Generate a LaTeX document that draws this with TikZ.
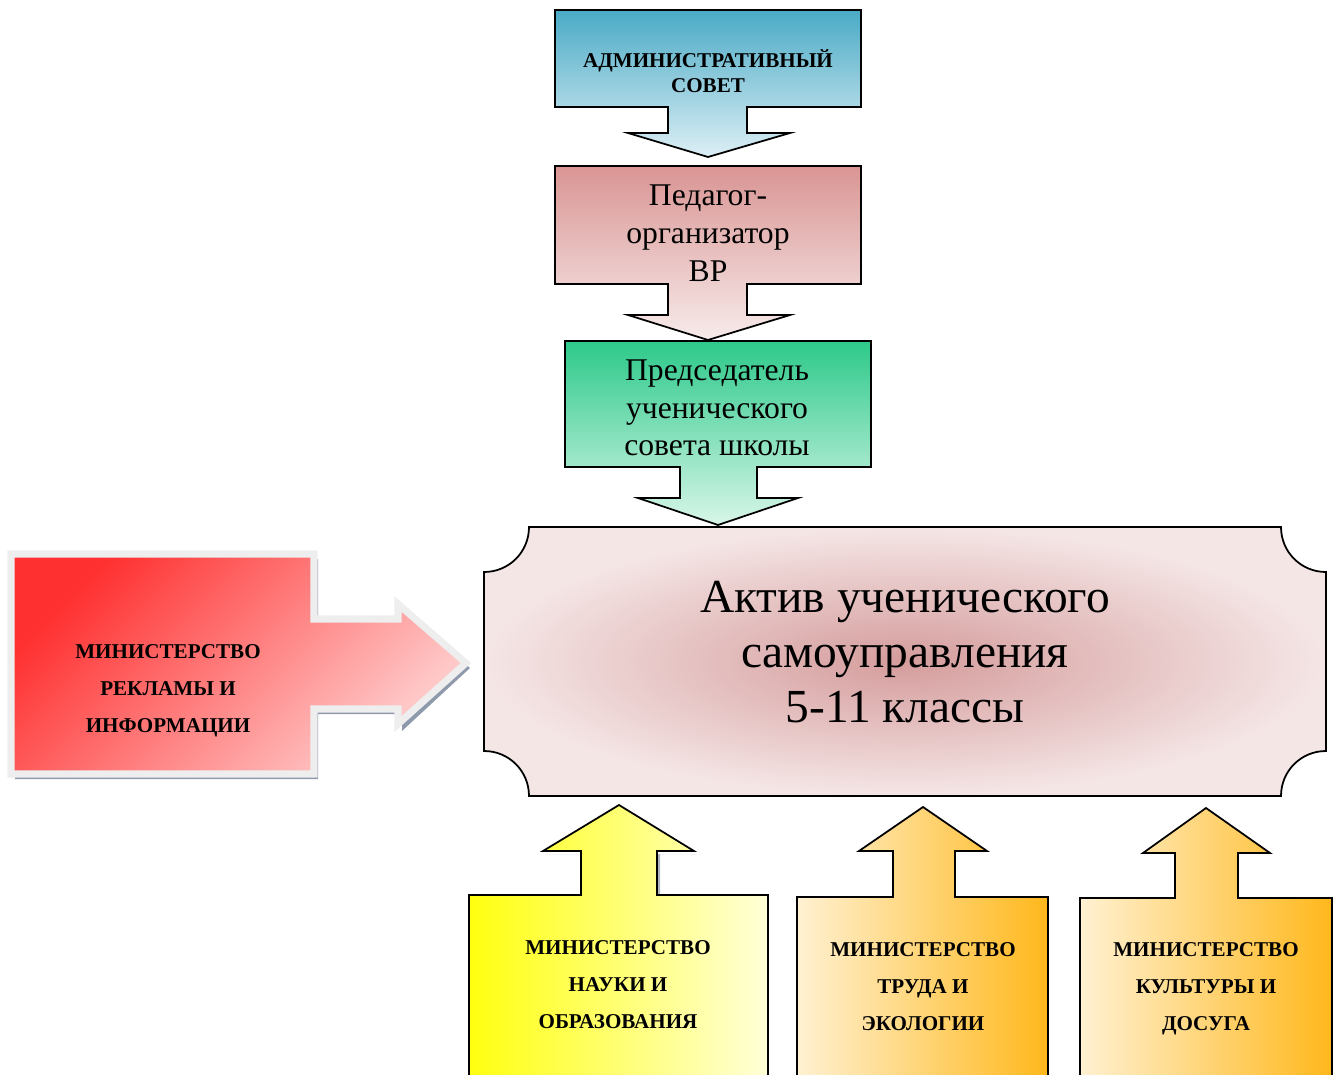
\documentclass[tikz,border=0pt]{standalone}
\usepackage{fontspec}
\setmainfont{Liberation Serif}
\definecolor{admTop}{HTML}{4AAAC6}
\definecolor{admBot}{HTML}{DDEFF5}
\definecolor{pedTop}{HTML}{D99594}
\definecolor{pedBot}{HTML}{F7EBEB}
\definecolor{predTop}{HTML}{2DC98A}
\definecolor{predBot}{HTML}{D8F6E9}
\definecolor{aktivIn}{HTML}{D59C9C}
\definecolor{aktivOut}{HTML}{F5E6E6}
\definecolor{redTop}{HTML}{FF3030}
\definecolor{redBot}{HTML}{FFD0D0}
\definecolor{frameGray}{HTML}{EEEEEE}
\definecolor{shadowGray}{HTML}{8E9AAB}
\definecolor{yelL}{HTML}{FFFF10}
\definecolor{yelR}{HTML}{FFFFD8}
\definecolor{orL}{HTML}{FFF1D2}
\definecolor{orM}{HTML}{FFDC92}
\definecolor{orR}{HTML}{FFB81C}
\begin{document}
\begin{tikzpicture}[x=0.02cm,y=-0.02cm,
  outl/.style={draw=black,line width=1pt},
  caps/.style={align=center,font=\fontsize{12}{21}\selectfont\bfseries},
  txt/.style={align=center,font=\fontsize{18}{21.5}\selectfont}]
  \useasboundingbox (0,0) rectangle (1339,1075);

  \draw[outl,top color=admTop,bottom color=admBot] (555,10) -- (861,10) -- (861,107) -- (747,107) -- (747,133) -- (790,133) -- (708,157) -- (628,133) -- (668,133) -- (668,107) -- (555,107) -- cycle;
  \node[caps,font=\fontsize{12}{14.2}\selectfont\bfseries] (adm) at (708,71) {АДМИНИСТРАТИВНЫЙ\\СОВЕТ};

  \draw[outl,top color=pedTop,bottom color=pedBot] (555,166) -- (861,166) -- (861,284) -- (747,284) -- (747,315) -- (790,315) -- (708,340) -- (628,315) -- (668,315) -- (668,284) -- (555,284) -- cycle;
  \node[txt] (ped) at (708,233) {Педагог-\\организатор\\ВР};

  \draw[outl,inner color=aktivIn,outer color=aktivOut] (529,527) -- (1281,527) .. controls (1281,552) and (1301,572) .. (1326,572) -- (1326,751) .. controls (1301,751) and (1281,771) .. (1281,796) -- (529,796) .. controls (529,771) and (509,751) .. (484,751) -- (484,572) .. controls (509,572) and (529,552) .. (529,527) -- cycle;
  \node[align=center,font=\fontsize{27}{31.3}\selectfont] (aktiv) at (905,652) {Актив ученического\\самоуправления\\5-11 классы};

  \draw[outl,top color=predTop,bottom color=predBot] (565,341) -- (871,341) -- (871,467) -- (757,467) -- (757,498) -- (798,498) -- (718,525) -- (638,498) -- (680,498) -- (680,467) -- (565,467) -- cycle;
  \node[txt] (pred) at (717,408) {Председатель\\ученического\\совета школы};

  \fill[shadowGray] (15,559) -- (318,559) -- (318,624) -- (402,624) -- (402,609) -- (470,668) -- (402,731) -- (402,714) -- (318,714) -- (318,779) -- (15,779) -- cycle;
  \draw[draw=frameGray,line width=4pt,top color=redTop,bottom color=redBot,shading angle=45] (11,554) -- (314,554) -- (314,619) -- (398,619) -- (398,604) -- (466,663) -- (398,724) -- (398,709) -- (314,709) -- (314,774) -- (11,774) -- cycle;
  \node[caps] (reklama) at (168,691) {МИНИСТЕРСТВО\\РЕКЛАМЫ И\\ИНФОРМАЦИИ};

  \fill[shadowGray!70] (546,854) -- (697,854) -- (660,854) -- (660,898) -- (584,898) -- (584,854) -- cycle;
  \draw[outl,left color=yelL,right color=yelR] (469,1080) -- (469,895) -- (581,895) -- (581,851) -- (543,851) -- (619,805) -- (694,851) -- (657,851) -- (657,895) -- (768,895) -- (768,1080) -- cycle;
  \node[caps] (nauka) at (618,985) {МИНИСТЕРСТВО\\НАУКИ И\\ОБРАЗОВАНИЯ};

  \draw[outl,left color=orL,middle color=orM,right color=orR] (797,1080) -- (797,897) -- (893,897) -- (893,851) -- (859,851) -- (923,807) -- (987,851) -- (955,851) -- (955,897) -- (1048,897) -- (1048,1080) -- cycle;
  \node[caps] (trud) at (923,987) {МИНИСТЕРСТВО\\ТРУДА И\\ЭКОЛОГИИ};

  \draw[outl,left color=orL,middle color=orM,right color=orR] (1080,1080) -- (1080,898) -- (1175,898) -- (1175,853) -- (1143,853) -- (1206,808) -- (1270,853) -- (1238,853) -- (1238,898) -- (1332,898) -- (1332,1080) -- cycle;
  \node[caps] (kult) at (1206,989) {МИНИСТЕРСТВО\\КУЛЬТУРЫ И\\ДОСУГА};
\end{tikzpicture}
\end{document}
